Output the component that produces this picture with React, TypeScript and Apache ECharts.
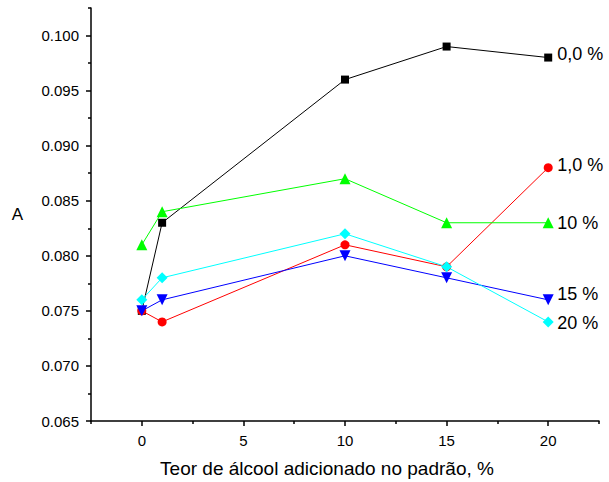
import React, { useEffect, useRef } from "react";
import * as echarts from "echarts";

// Added alcohol content in the standard (%)
const xValues = [0, 1, 10, 15, 20];

// Absorbance per alcohol content of the sample
const serie00 = [0.075, 0.083, 0.096, 0.099, 0.098];
const serie10 = [0.075, 0.074, 0.081, 0.079, 0.088];
const serie10pct = [0.081, 0.084, 0.087, 0.083, 0.083];
const serie15pct = [0.075, 0.076, 0.08, 0.078, 0.076];
const serie20pct = [0.076, 0.078, 0.082, 0.079, 0.074];

const seriesNames = ["0,0 %", "1,0 %", "10 %", "15 %", "20 %"];

const xMajorTicks = [0, 5, 10, 15, 20];
const xMinorTicks = [-2.5, 2.5, 7.5, 12.5, 17.5, 22.5];
const yMajorTicks = [0.065, 0.07, 0.075, 0.08, 0.085, 0.09, 0.095, 0.1];
const yMinorTicks = [0.0675, 0.0725, 0.0775, 0.0825, 0.0875, 0.0925, 0.0975, 0.1025];

const FONT = "'Liberation Sans', Arial, sans-serif";

export default function App() {
  const ref = useRef<HTMLDivElement>(null);

  useEffect(() => {
    if (!ref.current) return;
    const chart = echarts.init(ref.current, null, { renderer: "svg" });

    const mk = (
      name: string,
      values: number[],
      color: string,
      symbol: string,
      size: number,
      rotate: number,
      offset: [number, number]
    ) => ({
      name,
      type: "line",
      data: xValues.map((x, i) => [x, values[i]]),
      xAxisIndex: 0,
      yAxisIndex: 0,
      symbol,
      symbolSize: size,
      symbolRotate: rotate,
      showAllSymbol: true,
      lineStyle: { color, width: 1 },
      itemStyle: { color },
      endLabel: {
        show: true,
        formatter: name,
        color: "#000",
        fontFamily: FONT,
        fontSize: 18,
        distance: 9,
        offset,
      },
    });

    const xBase = {
      type: "value",
      min: -2.5,
      max: 22.5,
      splitLine: { show: false },
    };
    const yBase = {
      type: "value",
      min: 0.065,
      max: 0.1025,
      splitLine: { show: false },
    };

    chart.setOption({
      animation: false,
      backgroundColor: "#fff",
      grid: {
        left: 91,
        right: 10,
        top: 8,
        bottom: 61,
        containLabel: false,
        outerBoundsMode: "none",
      },
      xAxis: [
        {
          ...xBase,
          name: "Teor de álcool adicionado no padrão, %",
          nameLocation: "middle",
          nameGap: 38,
          nameTextStyle: {
            fontFamily: FONT,
            fontSize: 19,
            color: "#000",
            padding: [0, 36, 0, 0],
          },
          axisLine: { show: true, onZero: false, lineStyle: { color: "#000", width: 1.5 } },
          axisTick: {
            show: true,
            inside: false,
            length: 5,
            customValues: xMajorTicks,
            lineStyle: { color: "#000", width: 1.5 },
          },
          axisLabel: {
            customValues: xMajorTicks,
            margin: 12,
            fontFamily: FONT,
            fontSize: 15,
            color: "#000",
          },
        },
        {
          ...xBase,
          position: "bottom",
          axisLine: { show: false, onZero: false },
          axisTick: {
            show: true,
            length: 3,
            customValues: xMinorTicks,
            lineStyle: { color: "#000", width: 1.5 },
          },
          axisLabel: { show: false },
        },
      ],
      yAxis: [
        {
          ...yBase,
          name: "A",
          nameLocation: "middle",
          nameRotate: 0,
          nameGap: 68,
          nameTextStyle: { fontFamily: FONT, fontSize: 17, color: "#000" },
          axisLine: { show: true, onZero: false, lineStyle: { color: "#000", width: 1.5 } },
          axisTick: {
            show: true,
            length: 5,
            customValues: yMajorTicks,
            lineStyle: { color: "#000", width: 1.5 },
          },
          axisLabel: {
            customValues: yMajorTicks,
            margin: 12,
            fontFamily: FONT,
            fontSize: 15,
            color: "#000",
            formatter: (v: number) => v.toFixed(3),
          },
        },
        {
          ...yBase,
          position: "left",
          axisLine: { show: false, onZero: false },
          axisTick: {
            show: true,
            length: 3,
            customValues: yMinorTicks,
            lineStyle: { color: "#000", width: 1.5 },
          },
          axisLabel: { show: false },
        },
      ],
      series: [
        mk(seriesNames[0], serie00, "#000000", "rect", 8, 0, [0, -4]),
        mk(seriesNames[1], serie10, "#ff0000", "circle", 9, 0, [0, -3]),
        mk(seriesNames[2], serie10pct, "#00ff00", "triangle", 11, 0, [0, 0]),
        mk(seriesNames[3], serie15pct, "#0000ff", "triangle", 11, 180, [0, -6]),
        mk(seriesNames[4], serie20pct, "#00ffff", "diamond", 11, 0, [0, 1]),
      ],
    });

    return () => chart.dispose();
  }, []);

  return (
    <div
      ref={ref}
      style={{ position: "fixed", left: 0, top: 0, width: 609, height: 482 }}
    />
  );
}
